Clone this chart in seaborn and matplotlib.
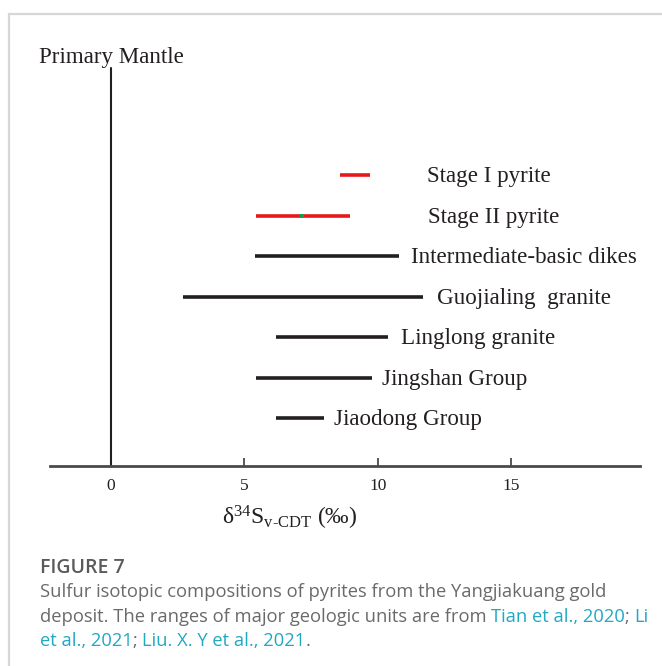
import matplotlib
matplotlib.use("Agg")
import matplotlib.pyplot as plt
from matplotlib.lines import Line2D
import seaborn as sns
import pandas as pd

# Sulfur isotope ranges (δ34S, ‰) per unit, top to bottom
units = ["Stage I pyrite", "Stage II pyrite", "Intermediate-basic dikes",
         "Guojialing  granite", "Linglong granite", "Jingshan Group", "Jiaodong Group"]
d34s_min = [8.6, 5.45, 5.4, 2.7, 6.2, 5.45, 6.2]
d34s_max = [9.7, 8.95, 10.8, 11.7, 10.4, 9.8, 8.0]
groups = ["pyrite", "pyrite", "source", "source", "source", "source", "source"]
stage2_point = [7.15]
primary_mantle = [0.0]
x_ticks = [0, 5, 10, 15]

sns.set_theme(style="white")
plt.rcParams["font.family"] = ["Liberation Serif", "DejaVu Sans"]
plt.rcParams["mathtext.fontset"] = "custom"
plt.rcParams["mathtext.rm"] = "Liberation Serif"
plt.rcParams["mathtext.it"] = "Liberation Serif:italic"
plt.rcParams["mathtext.bf"] = "Liberation Serif:bold"

rows = list(range(len(units), 0, -1))
df = pd.DataFrame({
    "unit": [u for u in units for _ in range(2)],
    "row": [r for r in rows for _ in range(2)],
    "group": [g for g in groups for _ in range(2)],
    "d34S": [v for pair in zip(d34s_min, d34s_max) for v in pair],
})

W, H = 662, 666
fig = plt.figure(figsize=(W / 100, H / 100), dpi=100)
ax = fig.add_axes([50 / W, (H - 466) / H, 590 / W, (466 - 60) / H])

ink = "#231f20"
sns.lineplot(data=df, x="d34S", y="row", units="unit", estimator=None,
             hue="group", palette={"pyrite": "#e8171c", "source": ink},
             sort=False, linewidth=2.6, legend=False, ax=ax, solid_capstyle="butt")
sns.scatterplot(x=stage2_point, y=[rows[1]], marker="s", s=9, color="#1e9a4a",
                linewidth=0, ax=ax, zorder=5)

# primary mantle reference line
top_y = 9.64
sns.lineplot(x=primary_mantle * 2, y=[-0.2, top_y], color=ink, estimator=None,
             linewidth=1.5, ax=ax, sort=False)
ax.text(primary_mantle[0], top_y + 0.0, "Primary Mantle", ha="center", va="bottom",
        fontsize=16.6, color=ink)

# unit labels
label_x = [11.85, 11.89, 11.25, 12.22, 10.87, 10.16, 8.36]
for u, r, lx in zip(units, rows, label_x):
    ax.text(lx, r - 0.04, u, ha="left", va="center", fontsize=16.6, color=ink)

ax.set_xlim(-2.29, 19.84)
ax.set_ylim(-0.185, 9.84)
ax.set_xticks(x_ticks)
ax.set_xticklabels([str(t) for t in x_ticks], fontsize=12.5, color=ink)
ax.set_yticks([])
ax.set_xlabel("")
ax.set_ylabel("")
for s in ["top", "right", "left"]:
    ax.spines[s].set_visible(False)
ax.spines["bottom"].set_color("#4a4a4a")
ax.spines["bottom"].set_linewidth(2.0)
ax.tick_params(axis="x", direction="in", length=6, width=1.3, color="#4a4a4a",
               pad=9, bottom=True)

fig.text(290 / W, 1 - 518 / H,
         r"δ$^{34}$S$_{\mathrm{v\text{-}CDT}}$ (‰)",
         ha="center", va="center", fontsize=17, color=ink)

# page frame
frame = "#d6d6d6"
fig.add_artist(Line2D([9 / W, 1], [1 - 14 / H, 1 - 14 / H], color=frame, lw=1.6,
                      transform=fig.transFigure))
fig.add_artist(Line2D([9 / W, 9 / W], [1 - 14 / H, 0], color=frame, lw=1.6,
                      transform=fig.transFigure))

# caption
cap_font = ["Open Sans", "DejaVu Sans"]
gray = "#6a6a6a"
teal = "#21a8c3"
fig.text(40 / W, 1 - 568 / H, "FIGURE 7", ha="left", va="center", fontsize=14,
         color="#5a5a5a", family=cap_font, weight="semibold")

lines = [
    [("Sulfur isotopic compositions of pyrites from the Yangjiakuang gold", gray)],
    [("deposit. The ranges of major geologic units are from ", gray),
     ("Tian et al., 2020", teal), ("; ", gray), ("Li", teal)],
    [("et al., 2021", teal), ("; ", gray), ("Liu. X. Y et al., 2021", teal), (".", gray)],
]
line_y = [592, 617, 641]
fig.canvas.draw()
renderer = fig.canvas.get_renderer()
for segs, ypx in zip(lines, line_y):
    xpx = 40
    for txt, col in segs:
        t = fig.text(xpx / W, 1 - ypx / H, txt, ha="left", va="center",
                     fontsize=13.2, color=col, family=cap_font)
        bb = t.get_window_extent(renderer=renderer)
        xpx += bb.width

fig.savefig("out.png", dpi=100)
